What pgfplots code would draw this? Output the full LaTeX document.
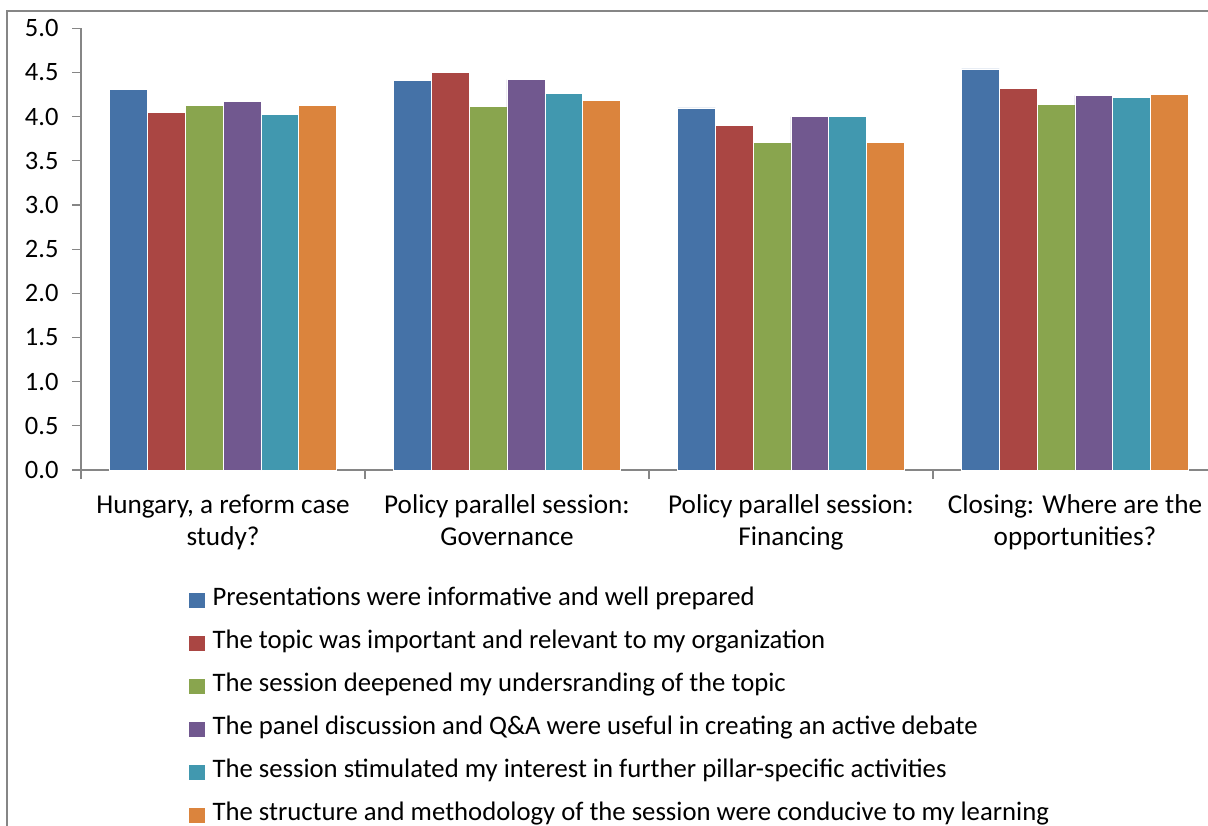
\documentclass[border=0pt]{standalone}
\usepackage{pgfplots}
\pgfplotsset{compat=1.18}
\usepackage{fontspec}
\setmainfont{Carlito}
\definecolor{c1}{HTML}{4572A7}
\definecolor{c2}{HTML}{AA4643}
\definecolor{c3}{HTML}{89A54E}
\definecolor{c4}{HTML}{71588F}
\definecolor{c5}{HTML}{4198AF}
\definecolor{c6}{HTML}{DB843D}
\definecolor{axgray}{HTML}{868686}
\begin{document}
\begin{tikzpicture}
\draw[axgray, line width=1.5pt] (7pt,-11pt) rectangle (1240pt,-860pt);
\begin{axis}[
  at={(81pt,-470pt)}, anchor=south west,
  scale only axis, width=1136pt, height=441.7pt,
  ybar=0pt, bar width=37.8pt,
  xmin=-0.5, xmax=3.5, ymin=0, ymax=5,
  axis lines=left, axis line style={-, axgray, line width=1.2pt},
  tick align=outside,
  major tick length=9pt, minor tick length=9pt,
  tick style={axgray, line width=1.2pt},
  ytick distance=0.5,
  yticklabel style={xshift=-10pt, /pgf/number format/.cd, fixed, fixed zerofill, precision=1, assume math mode=true},
  ticklabel style={font=\fontsize{26.5pt}{32pt}\selectfont},
  xtick={0,1,2,3},
  xticklabels={{Hungary, a reform case\\study?},{Policy parallel session:\\Governance},{Policy parallel session:\\Financing},{Closing: Where are the\\opportunities?}},
  xticklabel style={align=center, font=\fontsize{27.2pt}{32pt}\selectfont, yshift=-12pt},
  major x tick style={draw=none},
  minor xtick={-0.5,0.5,1.5,2.5},
  legend cell align=left,
  legend style={at={(0.0925,-0.268)}, anchor=north west, draw=none, fill=none,
    font=\fontsize{26.7pt}{30pt}\selectfont, row sep=23pt,
    nodes={inner sep=0pt, text height=15pt, text depth=5pt}},
  mybar/.style={fill=#1, draw=white, line width=0.6pt,
    legend image code/.code={\path[fill=#1,draw=none] (0pt,-7.5pt) rectangle (16pt,7.5pt); \path (16pt,0pt) -- (23pt,0pt);}},
]
\addplot[mybar=c1] coordinates {(0,4.31) (1,4.41) (2,4.10) (3,4.54)};
\addplot[mybar=c2] coordinates {(0,4.05) (1,4.50) (2,3.90) (3,4.32)};
\addplot[mybar=c3] coordinates {(0,4.13) (1,4.12) (2,3.71) (3,4.14)};
\addplot[mybar=c4] coordinates {(0,4.17) (1,4.42) (2,4.00) (3,4.24)};
\addplot[mybar=c5] coordinates {(0,4.03) (1,4.26) (2,4.00) (3,4.22)};
\addplot[mybar=c6] coordinates {(0,4.13) (1,4.18) (2,3.71) (3,4.25)};
\legend{Presentations were informative and well prepared,
The topic was important and relevant to my organization,
The session deepened my undersranding of the topic,
The panel discussion and Q\&A were useful in creating an active debate,
The session stimulated my interest in further pillar-specific activities,
The structure and methodology of the session were conducive to my learning}
\end{axis}
\pgfresetboundingbox
\path (0pt,0pt) rectangle (1208pt,-825pt);
\end{tikzpicture}
\end{document}
